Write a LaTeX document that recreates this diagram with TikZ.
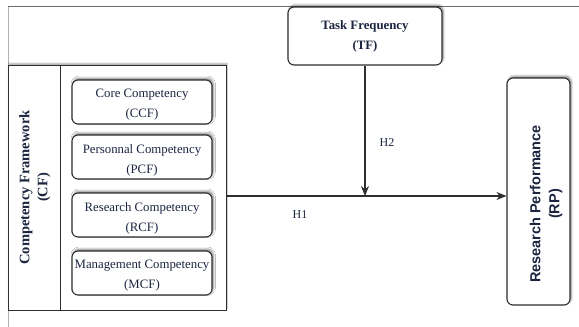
\documentclass[tikz,border=0pt]{standalone}
\usepackage{fontspec}
\setmainfont{Liberation Serif}
\newfontfamily\rpfont{Liberation Sans}
\usetikzlibrary{arrows.meta,shadows.blur}
\definecolor{txt}{HTML}{1C2540}
\definecolor{edge}{HTML}{2E2E2E}
\tikzset{
  sbox/.style={draw=edge, line width=1.1pt, rounded corners=6pt, fill=white, align=center, text=txt,
    blur shadow={shadow xshift=1.2pt, shadow yshift=1.8pt, shadow blur steps=6, shadow blur radius=2.2pt, shadow opacity=50}},
  inbox/.style={sbox, minimum width=140pt, minimum height=44pt, inner sep=0pt},
  intext/.style={align=center, text=txt, font=\fontsize{12.8}{20}\selectfont},
  conn/.style={draw=edge, line width=1.1pt},
  arr/.style={conn, -{Stealth[length=10pt,width=8pt]}},
  lab/.style={text=txt, font=\fontsize{12}{14}\selectfont}
}
\begin{document}
\begin{tikzpicture}[x=1pt,y=-1pt]
\useasboundingbox (0,0) rectangle (579,327);
% outer frame
\draw[gray!60, line width=0.8pt] (8,327) -- (8,6);
\draw[gray!85!black, line width=0.8pt] (8,6) -- (579,6);
% CF framework box
\node[draw=edge, line width=0.9pt, fill=white, minimum width=218pt, minimum height=245pt, inner sep=0pt,
  blur shadow={shadow xshift=1pt, shadow yshift=1.5pt, shadow blur steps=5, shadow blur radius=1.5pt, shadow opacity=35}]
  (cf) at (117,187.5) {};
\draw[edge, line width=0.9pt] (60,65) -- (60,310);
\node[rotate=90, align=center, text=txt, font=\bfseries\fontsize{14.5}{18}\selectfont] (cflab) at (35,187.5)
  {Competency Framework\\(CF)};
% inner boxes
\node[inbox] (ccf) at (142,102) {};
\node[intext] (ccft) at (142,105) {Core Competency\\(CCF)};
\node[inbox] (pcf) at (142,157) {};
\node[intext] (pcft) at (142,160) {Personnal Competency\\(PCF)};
\node[inbox] (rcf) at (142,215) {};
\node[intext] (rcft) at (142,218) {Research Competency\\(RCF)};
\node[inbox] (mcf) at (142,273) {};
\node[intext] (mcft) at (142,276) {Management Competency\\(MCF)};
% TF
\node[sbox, minimum width=154pt, minimum height=58pt, inner sep=0pt,
  font=\bfseries\fontsize{12.8}{20}\selectfont] (tf) at (365,36) {Task Frequency\\(TF)};
% RP
\node[sbox, minimum width=63pt, minimum height=227pt, inner sep=0pt] (rp) at (538.5,191.5) {};
\node[rotate=90, align=center, text=txt, font=\rpfont\bfseries\fontsize{14.5}{19}\selectfont] (rpt) at (546,204)
  {Research Performance\\(RP)};
% connectors
\coordinate (h1s) at (226,196);
\coordinate (jn) at (tf.south |- h1s);
\draw[arr] (h1s) -- (rp.west |- h1s);
\draw[arr] (tf.south) -- (jn);
\node[lab] (h1) at (300,215) {H1};
\node[lab] (h2) at (387,143) {H2};
\end{tikzpicture}
\end{document}
